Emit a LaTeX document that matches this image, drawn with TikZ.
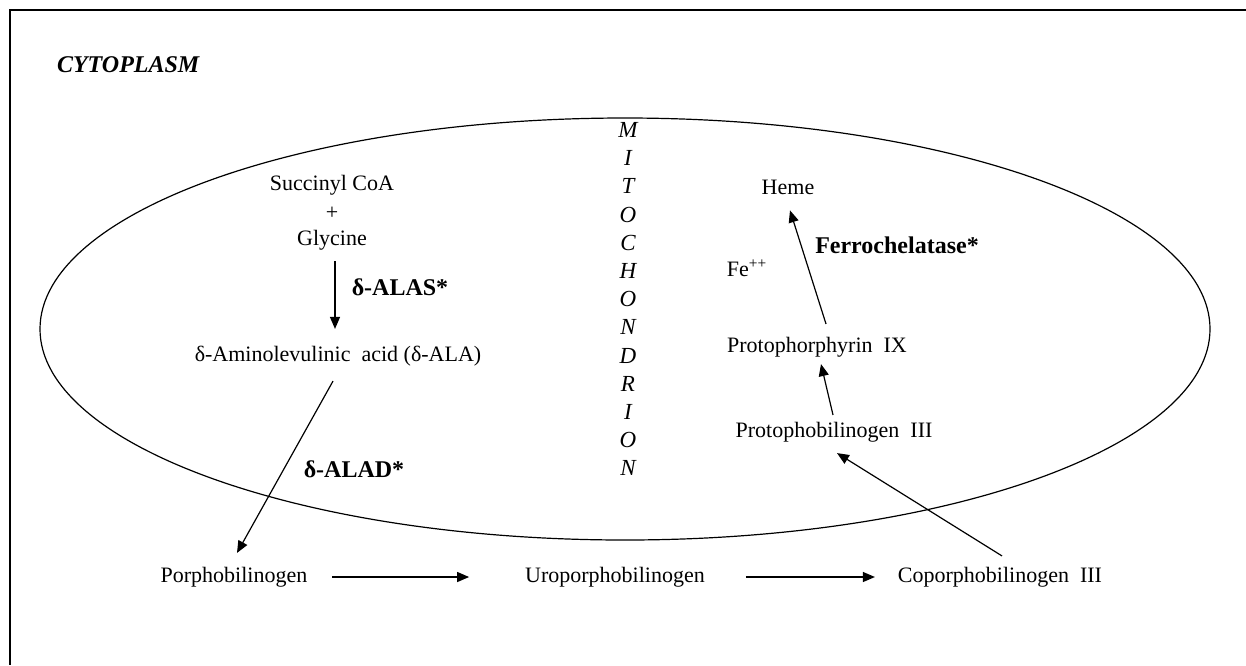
\documentclass[tikz,border=0pt]{standalone}
\usepackage{fontspec}
\setmainfont{Liberation Serif}
\usepackage{tikz}
\usetikzlibrary{arrows.meta}

\tikzset{
	chem/.style={font=\fontsize{11}{13}\selectfont},
	enz/.style={font=\fontsize{12}{14}\selectfont\bfseries},
	mito/.style={font=\fontsize{11.5}{13}\selectfont\itshape, inner sep=0pt},
	arr/.style={-{Triangle[length=6pt,width=5pt]}, line width=0.6pt},
}

\begin{document}
\begin{tikzpicture}[x=0.5pt, y=-0.5pt]
			\useasboundingbox (0,0) rectangle (1246,665);
			\draw[line width=0.8pt] (1246,10) -- (10,10) -- (10,665);
			\node[font=\fontsize{12}{14}\selectfont\bfseries\itshape, anchor=west] (cyto) at (50,65) {CYTOPLASM};
			\draw[line width=0.6pt] (625,329) ellipse [x radius=585, y radius=211];
			
			\foreach \l [count=\i from 0] in {M,I,T,O,C,H,O,N,D,R,I,O,N}
				\node[mito] (mito\i) at (628,130+28.2*\i) {\l};
			
			\node[chem] (succ) at (332,185) {Succinyl CoA};
			\node[chem] (plus) at (332,213) {+};
			\node[chem] (gly) at (332,240) {Glycine};
			\node[enz] (alas) at (400,287) {δ-ALAS*};
			\node[chem] (ala) at (338,356) {δ-Aminolevulinic\ \ acid (δ-ALA)};
			\node[enz] (alad) at (354,469) {δ-ALAD*};
			
			\node[chem] (pbg) at (234,577) {Porphobilinogen};
			\node[chem] (uro) at (615,577) {Uroporphobilinogen};
			\node[chem] (copro) at (1000,577) {Coporphobilinogen\ \ III};
			
			\node[chem] (proto3) at (834,432) {Protophobilinogen\ \ III};
			\node[chem] (protoIX) at (817,347) {Protophorphyrin\ \ IX};
			\node[chem] (heme) at (788,187) {Heme};
			\node[chem] (fe) at (747,268) {Fe\textsuperscript{++}};
			\node[enz] (ferro) at (897,245) {Ferrochelatase*};
			
			% shifts are in pt
			\draw[arr] ([xshift=1.5,yshift=-2]gly.south) -- ([xshift=1.5,yshift=5]gly.south |- ala.north);
			\draw[arr] ([xshift=-2.5,yshift=-4]ala.south) -- ([xshift=1.5,yshift=3.5]pbg.north);
			\draw[arr, shorten <=9, shorten >=24.5] (pbg) -- (uro);
			\draw[arr, shorten <=17, shorten >=8] (uro) -- (copro);
			\draw[arr] ([xshift=1,yshift=2]copro.north) -- ([xshift=1.5,yshift=-2]proto3.south);
			\draw[arr] ([xshift=-0.5]proto3.north) -- ([xshift=2]protoIX.south);
			\draw[arr] ([xshift=4.5,yshift=3]protoIX.north) -- ([xshift=1,yshift=-4.5]heme.south);
		\end{tikzpicture}
\end{document}
